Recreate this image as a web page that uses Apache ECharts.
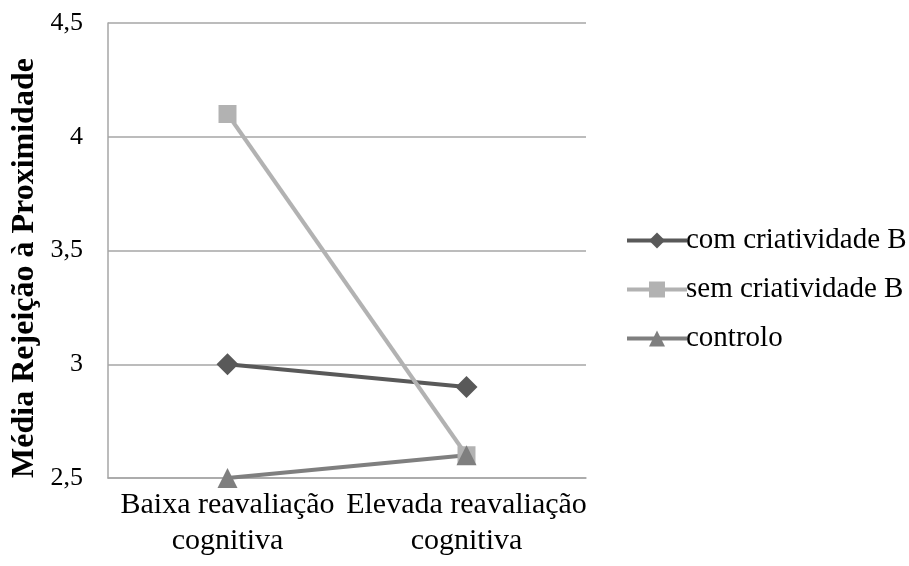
<!DOCTYPE html>
<html>
<head>
<meta charset="utf-8">
<script src="https://cdn.jsdelivr.net/npm/echarts@6/dist/echarts.min.js"></script>
<style>
  html, body { margin: 0; padding: 0; background: #fff; }
  #chart { width: 909px; height: 566px; }
</style>
</head>
<body>
<div id="chart"></div>
<script>
// Categories on the x axis (two reappraisal levels)
const categories = ['Baixa reavaliação\ncognitiva', 'Elevada reavaliação\ncognitiva'];

// Mean values per group
const comCriatividade = [3.0, 2.9];
const semCriatividade = [4.1, 2.6];
const controlo = [2.5, 2.6];

const seriesNames = ['com criatividade B', 'sem criatividade B', 'controlo'];
const yTitle = 'Média Rejeição à Proximidade';

const serif = '"Liberation Serif", "Times New Roman", serif';
const chart = echarts.init(document.getElementById('chart'), null, { renderer: 'canvas' });

function lineSeries(name, data, color, symbol, size) {
  return {
    name: name,
    type: 'line',
    data: data,
    symbol: symbol,
    symbolSize: size,
    lineStyle: { color: color, width: 4 },
    itemStyle: { color: color },
    z: 3
  };
}

chart.setOption({
  animation: false,
  backgroundColor: '#ffffff',
  textStyle: { fontFamily: serif },
  grid: { left: 108, right: 323, top: 23, bottom: 88, containLabel: false },
  // Vertical y-axis title, sitting slightly below the plot's middle
  graphic: [{
    type: 'text',
    x: 25,
    y: 268,
    rotation: Math.PI / 2,
    style: {
      text: yTitle,
      font: 'bold 32px ' + serif,
      fill: '#000',
      align: 'center',
      verticalAlign: 'middle'
    }
  }],
  legend: {
    orient: 'vertical',
    left: 625,
    top: 226,
    padding: 0,
    itemWidth: 60,
    itemHeight: 20,
    itemGap: 20,
    data: seriesNames,
    lineStyle: { width: 4 },
    textStyle: { fontFamily: serif, fontSize: 29, color: '#000', padding: [0, 0, 0, -6] }
  },
  xAxis: {
    type: 'category',
    data: categories,
    boundaryGap: true,
    axisLine: { show: true, lineStyle: { color: '#a6a6a6', width: 1.5 } },
    axisTick: { show: false },
    axisLabel: {
      interval: 0,
      fontFamily: serif,
      fontSize: 30,
      color: '#000',
      lineHeight: 36,
      margin: 9
    },
    splitLine: { show: false }
  },
  yAxis: {
    type: 'value',
    min: 2.5,
    max: 4.5,
    interval: 0.5,
    axisLine: { show: true, lineStyle: { color: '#a6a6a6', width: 1.5 } },
    axisTick: { show: false },
    axisLabel: {
      fontFamily: serif,
      fontSize: 26,
      color: '#000',
      margin: 25,
      formatter: function (v) { return String(v).replace('.', ','); }
    },
    splitLine: { show: true, lineStyle: { color: '#a6a6a6', width: 1.5 } }
  },
  series: [
    lineSeries(seriesNames[0], comCriatividade, '#595959', 'diamond', 22),
    lineSeries(seriesNames[1], semCriatividade, '#b2b2b2', 'rect', 18),
    lineSeries(seriesNames[2], controlo, '#7f7f7f', 'triangle', 20)
  ]
});
</script>
</body>
</html>
